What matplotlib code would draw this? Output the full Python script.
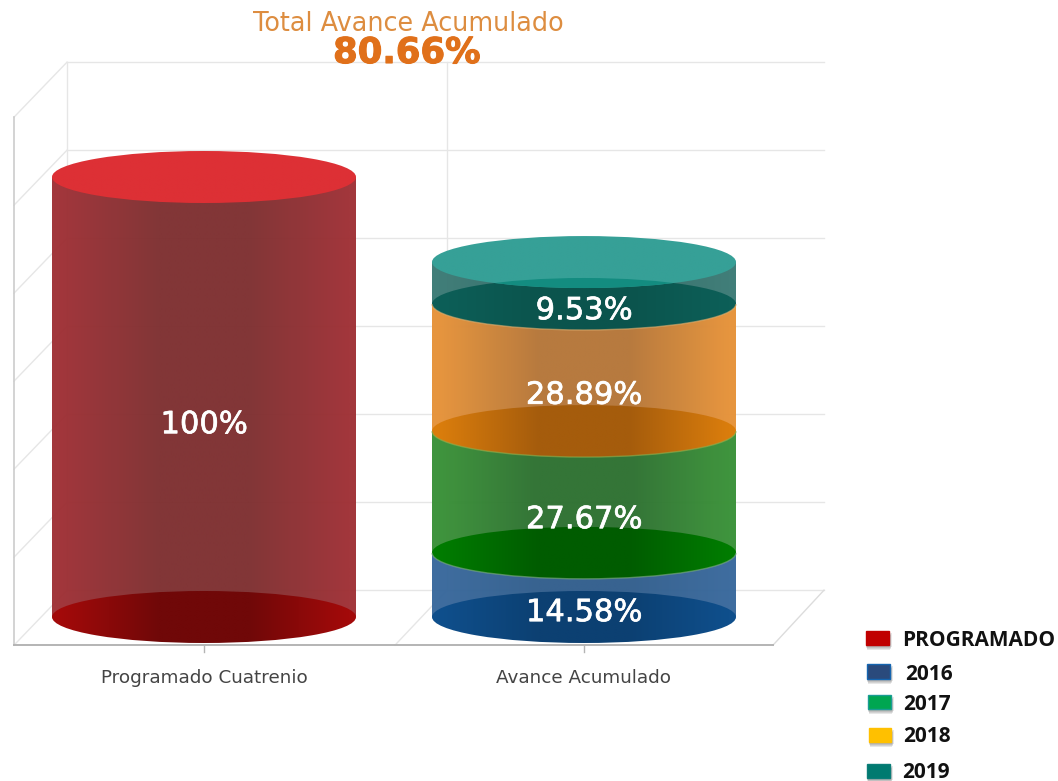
import numpy as np
import matplotlib
matplotlib.use('Agg')
import matplotlib.pyplot as plt
import matplotlib.patheffects as pe
from matplotlib.patches import Arc, Ellipse, Rectangle
from matplotlib.colors import to_rgb

categories = ['Programado Cuatrenio', 'Avance Acumulado']
programado = [100]
avance = [14.58, 27.67, 28.89, 9.53]
avance_labels = ['14.58%', '27.67%', '28.89%', '9.53%']
grid_values = [0, 20, 40, 60, 80, 100, 120]
legend_names = ['PROGRAMADO', '2016', '2017', '2018', '2019']

W, H = 1058, 781
# pixel scale of the chart: 380 px per category, 4.4 px per percent
X0, XS = 204, 380.0
Y0, YS = 617, 4.4


def xu(px):
    return (px - X0) / XS


def yu(px):
    return (Y0 - px) / YS


fig = plt.figure(figsize=(W / 100, H / 100), dpi=100)
ax = fig.add_axes([0, 0, 1, 1])
ax.axis('off')

# back wall and floor
grid_col = '#e6e6e6'
back = 6.1
front = -6.4
for v in grid_values:
    ax.plot([xu(67), xu(824)], [v + back, v + back], color=grid_col, lw=1, zorder=1)
    ax.plot([xu(14), xu(67)], [v + front, v + back], color=grid_col, lw=1, zorder=1)
ax.plot([xu(67), xu(67)], [back, 120 + back], color=grid_col, lw=1, zorder=1)
ax.plot([xu(447), xu(447)], [back, 120 + back], color=grid_col, lw=1, zorder=1)
ax.plot([xu(395), xu(447)], [front, back], color=grid_col, lw=1, zorder=1)
ax.plot([xu(773), xu(824)], [front, back], color='#dcdcdc', lw=1, zorder=1)
ax.plot([xu(14), xu(14)], [front, 120 + front], color='#cccccc', lw=1.2, zorder=1)
ax.plot([xu(14), xu(773)], [front, front], color='#b4b4b4', lw=1.4, zorder=2)
for i in range(2):
    ax.plot([i, i], [front, front - 1.6], color='#b4b4b4', lw=1, zorder=2)

RX = 152 / XS
RY = 26 / YS


def shaded(x, v0, v1, clip, edge, center, alpha, z):
    # horizontal light-dark-light gradient clipped to a patch
    t = np.abs(np.linspace(-1, 1, 200))
    t = np.clip((t - 0.3) / 0.65, 0, 1)[None, :, None]
    e = np.array(to_rgb(edge))[None, None, :]
    c = np.array(to_rgb(center))[None, None, :]
    rgb = c + (e - c) * t
    rgba = np.dstack([rgb, np.full(rgb.shape[:2], alpha)])
    im = ax.imshow(rgba, extent=[x - RX, x + RX, v0, v1], aspect='auto', zorder=z,
                   interpolation='bilinear')
    im.set_clip_path(clip)


def disc(x, v, edge, center, z, rim=None):
    clip = Ellipse((x, v), 2 * RX, 2 * RY, transform=ax.transData)
    shaded(x, v - RY, v + RY, clip, edge, center, 1, z)
    if rim:
        # only the front half of the disc has the light rim
        ax.add_patch(Arc((x, v), 2 * RX, 2 * RY, theta1=180, theta2=360, ec=rim, lw=1,
                         alpha=0.6, zorder=z))


def cylinder(x, v0, v1, side_edge, side_center, bot_edge, bot_center, z, rim=None):
    clip = Rectangle((x - RX, v0), 2 * RX, v1 - v0, transform=ax.transData)
    shaded(x, v0, v1, clip, side_edge, side_center, 0.97, z)
    disc(x, v0, bot_edge, bot_center, z + 1, rim)


label_fx = [pe.withStroke(linewidth=0.5, foreground='white')]
label_shift = back + 0.2

# first column
cylinder(0, 0, programado[0], '#9f3035', '#7e2f30', '#a30a0a', '#700808', 5)
disc(0, programado[0], '#dd3035', '#dd3035', 7)
ax.text(0, programado[0] / 2 - label_shift, '100%', color='white', fontsize=22, ha='center',
        va='center', zorder=20, path_effects=label_fx)

# stacked column
side_edges = ['#38689c', '#399137', '#e69238', '#3b7a75']
side_centers = ['#315e8d', '#2d7030', '#b57639', '#336c66']
bot_edges = ['#0f4f8c', '#007c00', '#da7d0c', '#0d5f58']
bot_centers = ['#0c4072', '#005c00', '#a55c0c', '#0b544d']
rims = [None, '#7fae7f', '#8fb050', '#e0b070']
bottom = 0
for i, val in enumerate(avance):
    cylinder(1, bottom, bottom + val, side_edges[i], side_centers[i], bot_edges[i],
             bot_centers[i], 5 + 2 * i, rims[i])
    ax.text(1, bottom + val / 2 - label_shift, avance_labels[i], color='white', fontsize=22,
            ha='center', va='center', zorder=20, path_effects=label_fx)
    bottom += val

# top of the stack, the last bottom disc shows through it
disc(1, bottom, '#36a097', '#36a097', 15)
lens = Ellipse((1, bottom - avance[-1]), 2 * RX, 2 * RY, fc='#138c80', ec='none', zorder=16)
ax.add_patch(lens)
lens.set_clip_path(Ellipse((1, bottom), 2 * RX, 2 * RY, transform=ax.transData))

for i, name in enumerate(categories):
    ax.text(i, yu(678), name, color='#444444', fontsize=13.2, ha='center', va='center', zorder=20)

ax.set_xlim(xu(0), xu(W))
ax.set_ylim(yu(H), yu(0))

ax.text(xu(408), yu(24), 'Total Avance Acumulado', color='#dd8d40', fontsize=18.4,
        ha='center', va='center', zorder=20)
ax.text(xu(407), yu(53), '80.66%', color='#e0701a', fontsize=25.5, fontweight='bold',
        ha='center', va='center', zorder=20,
        path_effects=[pe.withStroke(linewidth=0.8, foreground='#e0701a')])

# legend, placed by pixels like the pasted one in the original
legend_boxes = [(866, 631, 23, 14), (867, 664, 23, 15), (868, 695, 23, 14), (869, 728, 22, 14),
                (867, 764, 23, 14)]
legend_fill = ['#c00000', '#2a4a7c', '#00a651', '#ffc000', '#007a70']
legend_edge = ['#c00000', '#1565b0', '#1a9c94', '#ffc000', '#0b7d78']
legend_text = [(902, 641), (905, 674), (903, 705), (903, 737), (902, 772)]
for (x, y, w, h), fc, ec, (tx, ty), name in zip(legend_boxes, legend_fill, legend_edge,
                                                legend_text, legend_names):
    for k in range(4):
        ax.add_patch(Rectangle((xu(x + 1 - k / 2), yu(y + h + 5 - k)), (w + k) / XS, h / YS,
                               fc='#555555', ec='none', alpha=0.14, zorder=18))
    ax.add_patch(Rectangle((xu(x), yu(y + h)), w / XS, h / YS, fc=fc, ec=ec, lw=1, zorder=19))
    ax.text(xu(tx), yu(ty), name, color='#111111', fontsize=15, fontweight='bold',
            family='Open Sans', ha='left', va='center', zorder=20)

fig.savefig('out.png', dpi=100, facecolor='white')
